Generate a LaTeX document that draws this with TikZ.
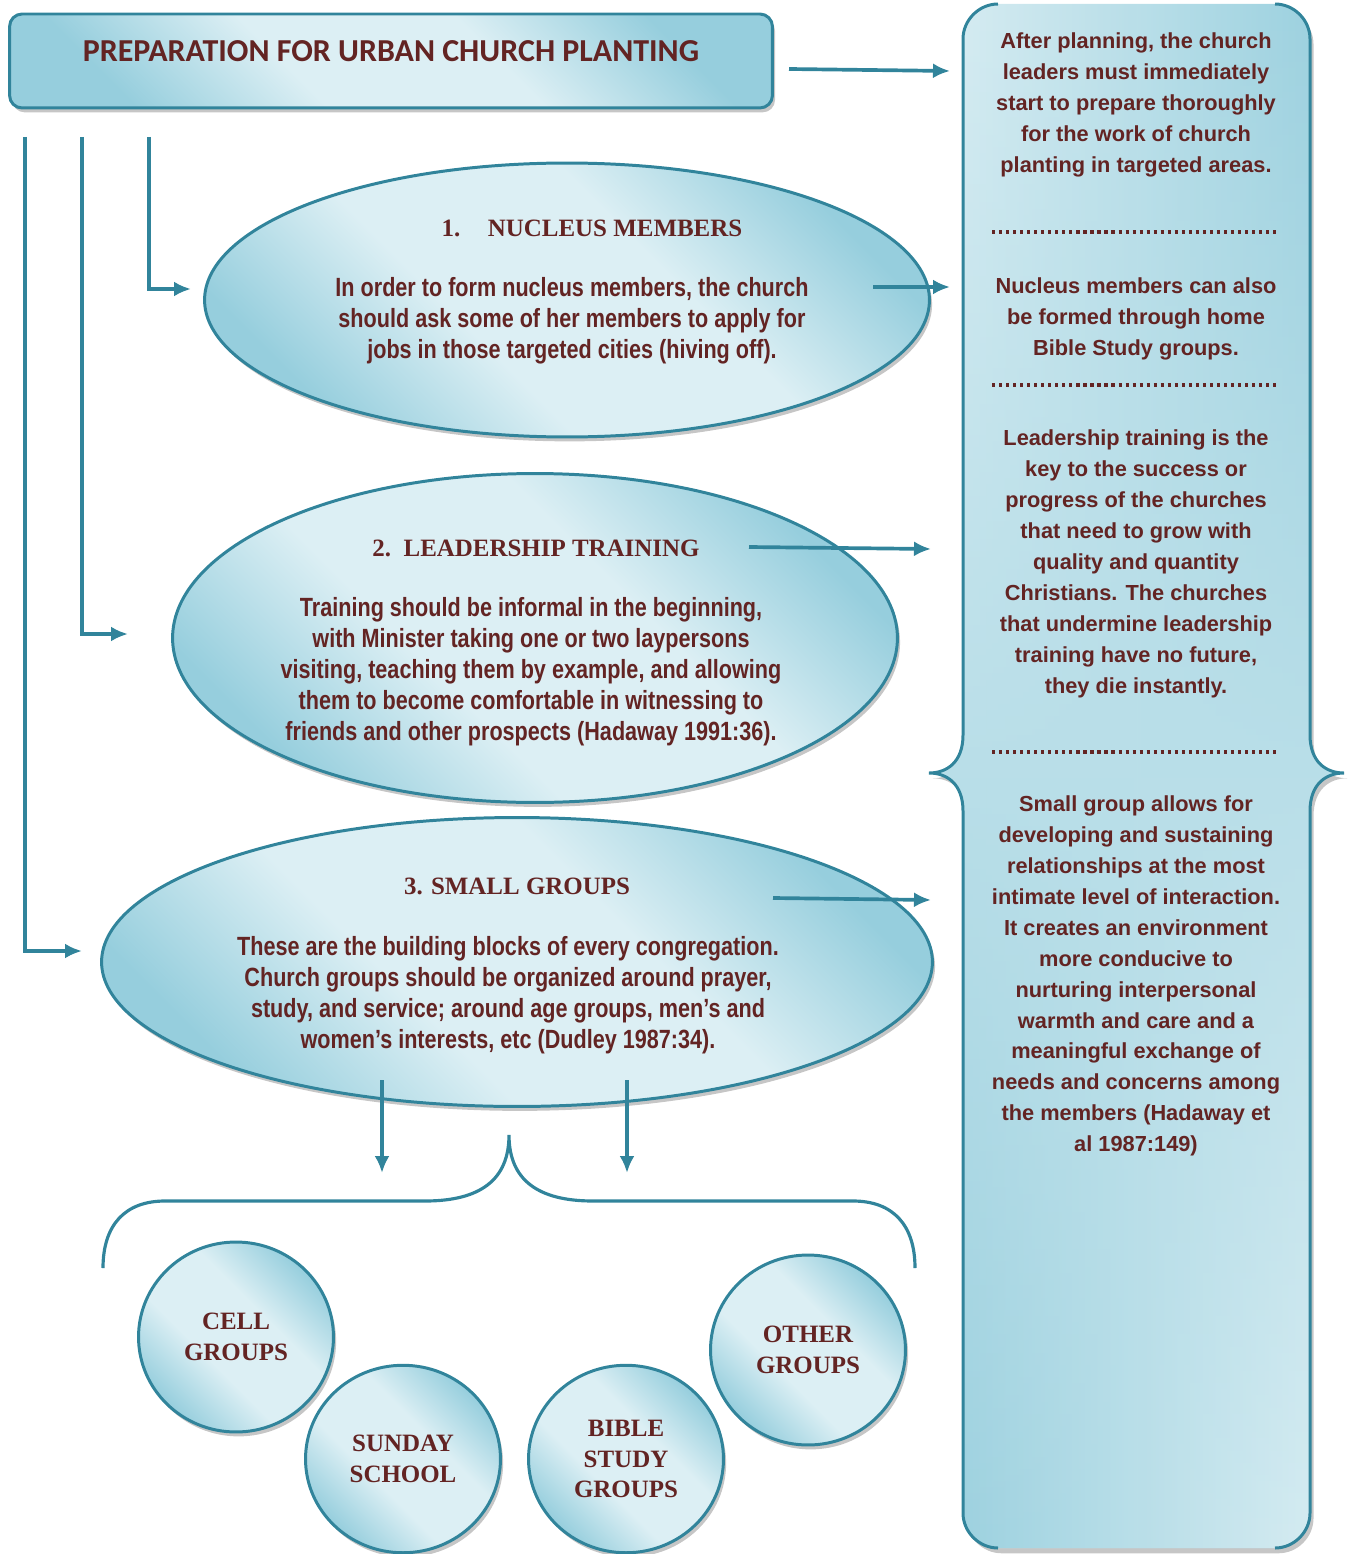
\documentclass[tikz,border=0pt]{standalone}
\usepackage{fontspec}
\setmainfont{Liberation Serif}
\newfontfamily\panelfont{Liberation Sans}
\newfontfamily\narrowfont{Liberation Sans}[FakeStretch=0.82]
\newfontfamily\headfont{Carlito}
\usetikzlibrary{shapes.geometric,shadows,fadings,arrows.meta}
\definecolor{edge}{RGB}{49,132,155}
\definecolor{deep}{RGB}{150,206,221}
\definecolor{lite}{RGB}{220,239,244}
\definecolor{ink}{RGB}{99,36,35}
\pgfdeclareverticalshading{glass}{100bp}{color(0bp)=(deep); color(25bp)=(deep); color(41bp)=(lite); color(59bp)=(lite); color(75bp)=(deep); color(100bp)=(deep)}
\tikzfading[name=fadeup, top color=transparent!100, bottom color=transparent!0]
\def\panelside{(998,4) .. controls (979,4) and (963,20) .. (963,39) -- (963,735) .. controls (963,762) and (947,773) .. (929,773) .. controls (947,773) and (963,784) .. (963,811) -- (963,1513) .. controls (963,1532) and (979,1548) .. (998,1548)}
\def\panelotherside{(1275,4) .. controls (1294,4) and (1310,20) .. (1310,39) -- (1310,735) .. controls (1310,762) and (1326,773) .. (1344,773) .. controls (1326,773) and (1310,784) .. (1310,811) -- (1310,1513) .. controls (1310,1532) and (1294,1548) .. (1275,1548)}
\def\panelpath{(998,4) .. controls (979,4) and (963,20) .. (963,39) -- (963,735) .. controls (963,762) and (947,773) .. (929,773) .. controls (947,773) and (963,784) .. (963,811) -- (963,1513) .. controls (963,1532) and (979,1548) .. (998,1548) -- (1275,1548) .. controls (1294,1548) and (1310,1532) .. (1310,1513) -- (1310,811) .. controls (1310,784) and (1326,773) .. (1344,773) .. controls (1326,773) and (1310,762) .. (1310,735) -- (1310,39) .. controls (1310,20) and (1294,4) .. (1275,4) -- cycle}

\tikzset{
	bubble/.style={ellipse, draw=edge, line width=1.7pt, shading=glass, shading angle=-45, inner sep=0pt,
		drop shadow={shadow xshift=1.5pt, shadow yshift=-2.5pt, fill=black!50, opacity=.45}},
	flow/.style={draw=edge, line width=2.1pt, -{Latex[length=0.34cm,width=0.3cm]}},
	sidetext/.style={text=ink, align=center, font=\panelfont\bfseries\fontsize{12.4}{17.6}\selectfont},
	bodytext/.style={text=ink, align=center, font=\narrowfont\bfseries\fontsize{15}{17.6}\selectfont},
	headtext/.style={text=ink, font=\bfseries\fontsize{14.2}{17.6}\selectfont},
	grouptext/.style={text=ink, align=center, font=\bfseries\fontsize{14.2}{17.6}\selectfont},
	rule/.style={draw=ink, line width=1.8pt, dash pattern=on 1.8pt off 2.2pt}
}

\begin{document}
\begin{tikzpicture}[x=0.02cm,y=-0.02cm]
			%%%%% START %%%%%
			\useasboundingbox (0,0) rectangle (1354,1554);
			
			% side panel
			\fill[black!50, opacity=.45, xshift=2pt, yshift=-3pt] \panelpath;
			\begin{scope}
				\clip \panelpath;
				\shade[left color=lite, right color=deep] (920,0) rectangle (1354,1554);
				\shade[left color=deep, right color=lite, path fading=fadeup] (920,0) rectangle (1354,1554);
			\end{scope}
			\draw[edge, line width=1.7pt] \panelside;
			\draw[edge, line width=1.7pt] \panelotherside;
			
			\node[sidetext] (plan) at (1136,105) {After planning, the church\\leaders must immediately\\start to prepare thoroughly\\for the work of church\\planting in targeted areas.};
			\draw[rule] (992,232) -- (1278,232);
			\node[sidetext] (homebible) at (1136,319) {Nucleus members can also\\be formed through home\\Bible Study groups.};
			\draw[rule] (992,385) -- (1278,385);
			\node[sidetext] (keytext) at (1136,564) {Leadership training is the\\key to the success or\\progress of the churches\\that need to grow with\\quality and quantity\\Christians. The churches\\that undermine leadership\\training have no future,\\they die instantly.};
			\draw[rule] (992,752) -- (1278,752);
			\node[sidetext] (smalltext) at (1136,976) {Small group allows for\\developing and sustaining\\relationships at the most\\intimate level of interaction.\\It creates an environment\\more conducive to\\nurturing interpersonal\\warmth and care and a\\meaningful exchange of\\needs and concerns among\\the members (Hadaway et\\al 1987:149)};
			
			% title
			\node[draw=edge, line width=1.7pt, rounded corners=0.25cm, shading=glass, shading angle=-45, minimum width=15.26cm, minimum height=1.88cm,
				drop shadow={shadow xshift=1.5pt, shadow yshift=-2.5pt, fill=black!50, opacity=.45}] (title) at (391,61) {};
			\node[text=ink, font=\headfont\bfseries\fontsize{18.2}{20}\selectfont] (titletext) at (391,51) {PREPARATION FOR URBAN CHURCH PLANTING};
			
			% ellipses
			\node[bubble, minimum width=14.5cm, minimum height=5.48cm] (nucleus) at (567,300) {};
			\node[headtext] (nucleushead) at (592,228) {1.\hspace{1.1em}NUCLEUS MEMBERS};
			\node[bodytext] (nucleusbody) at (572,321) {In order to form nucleus members, the church\\should ask some of her members to apply for\\jobs in those targeted cities (hiving off).};
			
			\node[bubble, minimum width=14.5cm, minimum height=6.58cm] (leader) at (535,638) {};
			\node[headtext] (leaderhead) at (536,548) {2.\ \ LEADERSHIP TRAINING};
			\node[bodytext] (leaderbody) at (531,672) {Training should be informal in the beginning,\\with Minister taking one or two laypersons\\visiting, teaching them by example, and allowing\\them to become comfortable in witnessing to\\friends and other prospects (Hadaway 1991:36).};
			
			\node[bubble, minimum width=16.62cm, minimum height=5.78cm] (small) at (517,962) {};
			\node[headtext] (smallhead) at (517,886) {3. SMALL GROUPS};
			\node[bodytext] (smallbody) at (508,995) {These are the building blocks of every congregation.\\Church groups should be organized around prayer,\\study, and service; around age groups, men’s and\\women’s interests, etc (Dudley 1987:34).};
			
			% connectors
			\coordinate (titleout) at (789,69);
			\coordinate (planin) at (950,71);
			\draw[flow] (titleout) -- (planin);
			
			\coordinate (drop1) at (149,137);
			\coordinate (nucleusin) at (191,289);
			\draw[flow] (drop1) |- (nucleusin);
			\coordinate (drop2) at (82,137);
			\coordinate (leaderin) at (128,634);
			\draw[flow] (drop2) |- (leaderin);
			\coordinate (drop3) at (25,137);
			\coordinate (smallin) at (82,951);
			\draw[flow] (drop3) |- (smallin);
			
			\coordinate (nucleusout) at (873,287);
			\coordinate (homein) at (950,287);
			\draw[flow] (nucleusout) -- (homein);
			\coordinate (leaderout) at (749,547);
			\coordinate (keyin) at (931,549);
			\draw[flow] (leaderout) -- (keyin);
			\coordinate (smallout) at (773,898);
			\coordinate (smalltextin) at (931,900);
			\draw[flow] (smallout) -- (smalltextin);
			
			\coordinate (downa) at (382,1080);
			\coordinate (downaend) at (382,1173);
			\draw[flow] (downa) -- (downaend);
			\coordinate (downb) at (627,1080);
			\coordinate (downbend) at (627,1173);
			\draw[flow] (downb) -- (downbend);
			
			% brace over the groups
			\draw[edge, line width=1.8pt] (103,1268) .. controls (103,1225) and (125,1201) .. (165,1201) -- (425,1201) .. controls (480,1201) and (509,1180) .. (509,1135) .. controls (509,1180) and (538,1201) .. (593,1201) -- (853,1201) .. controls (893,1201) and (915,1225) .. (915,1268);
			
			% groups
			\node[bubble, grouptext, minimum width=3.9cm, minimum height=3.8cm] (cell) at (236,1337) {CELL\\GROUPS};
			\node[bubble, grouptext, minimum width=3.9cm, minimum height=3.75cm] (sunday) at (403,1459) {SUNDAY\\SCHOOL};
			\node[bubble, grouptext, minimum width=3.9cm, minimum height=3.75cm] (bible) at (626,1459) {BIBLE\\STUDY\\GROUPS};
			\node[bubble, grouptext, minimum width=3.9cm, minimum height=3.8cm] (other) at (808,1350) {OTHER\\GROUPS};
			
			%%%%% END %%%%%
\end{tikzpicture}
\end{document}
